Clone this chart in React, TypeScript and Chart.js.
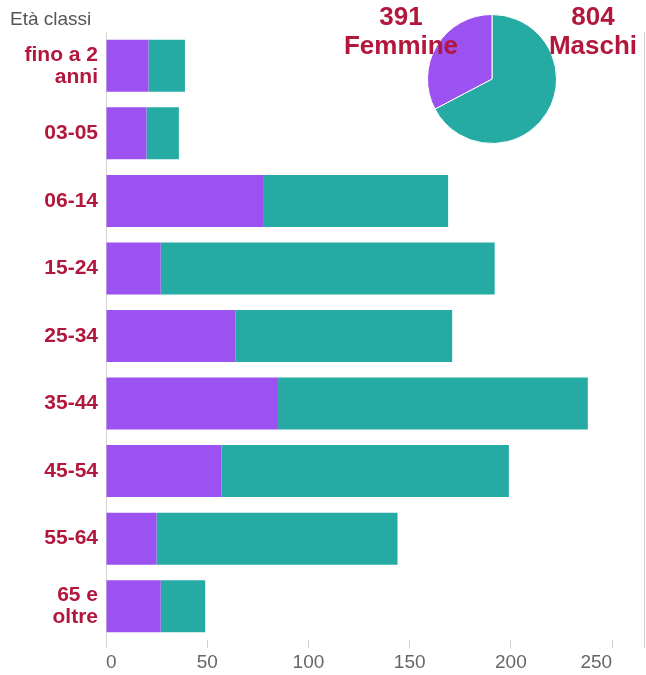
import React, { useEffect, useRef } from 'react';
import { Chart, registerables } from 'chart.js';
Chart.register(...registerables);

const categories: (string | string[])[] = [
  ['fino a 2', 'anni'], '03-05', '06-14', '15-24', '25-34', '35-44', '45-54', '55-64', ['65 e', 'oltre'],
];
const femmine = [21, 20, 78, 27, 64, 85, 57, 25, 27];
const maschi = [18, 16, 91, 165, 107, 153, 142, 119, 22];
const xTickStep = 50;
const xMax = 266;
const pieLabels = ['Maschi', 'Femmine'];
const pieValues = [804, 391];
const axisTitle = 'Età classi';

const FONT = "'Liberation Sans', Arial, sans-serif";
const CRIMSON = '#b3173b';
const PURPLE = '#9b52f1';
const TEAL = '#25aba3';
const GRID = '#d2d2d2';

export default function App() {
  const barRef = useRef<HTMLCanvasElement>(null);
  const pieRef = useRef<HTMLCanvasElement>(null);

  useEffect(() => {
    document.body.style.margin = '0';
    const rightLine = {
      id: 'rightLine',
      afterDraw(chart: any) {
        const { ctx, chartArea } = chart;
        ctx.save();
        ctx.strokeStyle = GRID;
        ctx.lineWidth = 1;
        ctx.beginPath();
        const x = Math.round(chartArea.right) - 0.5;
        ctx.moveTo(x, chartArea.top);
        ctx.lineTo(x, chartArea.bottom + 8);
        ctx.stroke();
        ctx.restore();
      },
    };
    const bar = new Chart(barRef.current!, {
      type: 'bar',
      data: {
        labels: categories as any,
        datasets: [
          { label: 'Femmine', data: femmine, backgroundColor: PURPLE, borderWidth: 0, barPercentage: 0.77, categoryPercentage: 1 },
          { label: 'Maschi', data: maschi, backgroundColor: TEAL, borderWidth: 0, barPercentage: 0.77, categoryPercentage: 1 },
        ],
      },
      options: {
        indexAxis: 'y',
        animation: false,
        responsive: false,
        maintainAspectRatio: false,
        layout: { padding: { top: 32, right: 1.5, bottom: 0, left: 0 } },
        plugins: { legend: { display: false }, tooltip: { enabled: false }, title: { display: false } },
        scales: {
          x: {
            stacked: true,
            min: 0,
            max: xMax,
            afterFit: (s: any) => { s.height = 35; },
            ticks: {
              stepSize: xTickStep,
              includeBounds: false,
              align: 'inner',
              color: '#666',
              font: { size: 19, family: FONT },
              padding: 3,
              maxRotation: 0,
              autoSkip: false,
            },
            grid: {
              color: (c: any) => (c.tick && c.tick.value === 0 ? GRID : 'rgba(0,0,0,0)'),
              tickColor: GRID,
              tickLength: 8,
              drawOnChartArea: true,
            },
            border: { display: false },
          },
          y: {
            stacked: true,
            afterFit: (s: any) => { s.width = 106; },
            grid: { display: false, drawTicks: false },
            border: { display: false },
            ticks: {
              color: CRIMSON,
              font: { size: 21, weight: 'bold', family: FONT, lineHeight: 1.05 },
              padding: 8,
              autoSkip: false,
            },
          },
        },
      } as any,
      plugins: [rightLine],
    });

    const pie = new Chart(pieRef.current!, {
      type: 'pie',
      data: {
        labels: pieLabels,
        datasets: [{ data: pieValues, backgroundColor: [TEAL, PURPLE], borderColor: '#fff', borderWidth: 1, hoverOffset: 0, offset: 0 }],
      },
      options: {
        animation: false,
        responsive: false,
        maintainAspectRatio: false,
        layout: { padding: 0 },
        plugins: { legend: { display: false }, tooltip: { enabled: false } },
      } as any,
    });

    return () => { bar.destroy(); pie.destroy(); };
  }, []);

  const labelStyle = (cx: number): React.CSSProperties => ({
    position: 'absolute', left: cx - 100, top: 2, width: 200, textAlign: 'center',
    fontFamily: FONT, fontWeight: 'bold', fontSize: 26, lineHeight: '29px', color: CRIMSON,
    pointerEvents: 'none',
  });

  return (
    <div style={{ position: 'relative', width: 646, height: 675, overflow: 'hidden' }}>
      <canvas ref={barRef} width={646} height={675} style={{ position: 'absolute', left: 0, top: 0 }} />
      <div style={{ position: 'absolute', left: 10, top: 8, fontFamily: FONT, fontSize: 19, color: '#555' }}>{axisTitle}</div>
      <canvas ref={pieRef} width={130} height={130} style={{ position: 'absolute', left: 427, top: 14 }} />
      <div style={labelStyle(401)}>{pieValues[1]}<br />{pieLabels[1]}</div>
      <div style={labelStyle(593)}>{pieValues[0]}<br />{pieLabels[0]}</div>
    </div>
  );
}
